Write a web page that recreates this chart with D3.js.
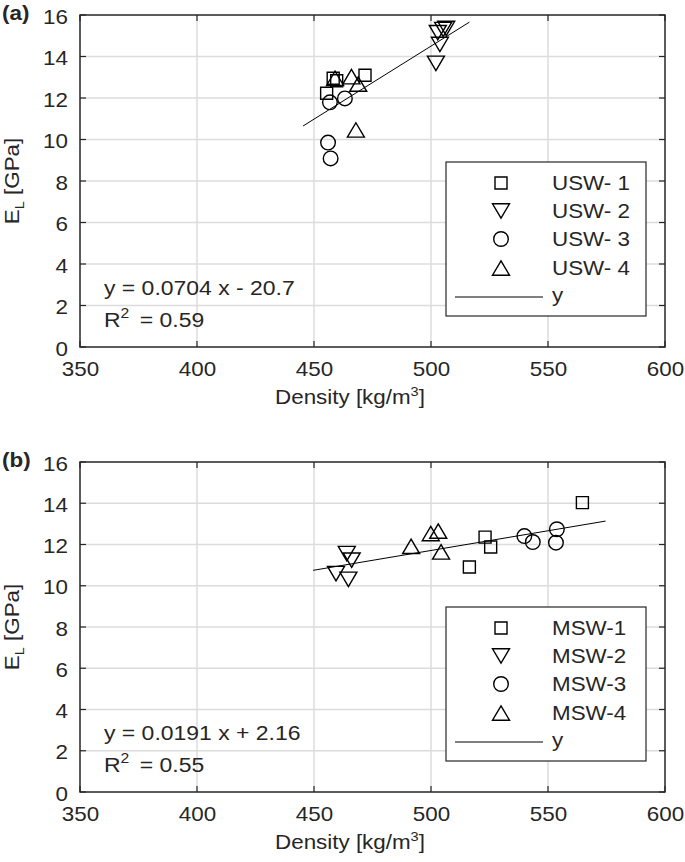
<!DOCTYPE html>
<html><head><meta charset="utf-8">
<script src="https://cdn.jsdelivr.net/npm/d3@7"></script>
<style>body{margin:0;background:#fff} text{font-family:"Liberation Sans",Arial,Helvetica,sans-serif;fill:#262626}</style>
</head><body><svg id="c" width="685" height="862"></svg>
<script>
// ---- data ----
const xTicks = [350, 400, 450, 500, 550, 600];
const yTicks = [0, 2, 4, 6, 8, 10, 12, 14, 16];

const namesA = ["USW- 1", "USW- 2", "USW- 3", "USW- 4"];
const usw1X = [458.2, 459.7, 471.8, 455.4];
const usw1Y = [12.95, 12.83, 13.10, 12.23];
const usw2X = [502.1, 503.8, 502.9, 505.2, 506.5];
const usw2Y = [13.67, 14.58, 15.15, 15.30, 15.35];
const usw3X = [456.8, 463.2, 456.0, 457.1];
const usw3Y = [11.79, 11.98, 9.85, 9.09];
const usw4X = [459.0, 466.0, 468.9, 467.9];
const usw4Y = [12.95, 13.03, 12.67, 10.46];
const fitA = {slope: 0.0704, intercept: -20.7, x0: 445.3, x1: 516.4};
const eqA = "y = 0.0704 x - 20.7";
const r2A = "0.59";

const namesB = ["MSW-1", "MSW-2", "MSW-3", "MSW-4"];
const msw1X = [564.7, 523.1, 525.5, 516.4];
const msw1Y = [14.03, 12.36, 11.88, 10.91];
const msw2X = [464.0, 466.1, 459.4, 464.7];
const msw2Y = [11.56, 11.24, 10.59, 10.31];
const msw3X = [539.9, 543.5, 553.8, 553.4];
const msw3Y = [12.41, 12.12, 12.74, 12.09];
const msw4X = [491.5, 499.9, 503.1, 504.3];
const msw4Y = [11.91, 12.53, 12.65, 11.64];
const fitB = {slope: 0.0191, intercept: 2.16, x0: 449.6, x1: 574.6};
const eqB = "y = 0.0191 x + 2.16";
const r2B = "0.55";

const shapes = ["square", "down", "circle", "up"];

// ---- drawing ----
const SX = 1.12;          // horizontal glyph stretch to match reference font
const INK = "#262626";
const svg = d3.select("#c");
svg.append("rect").attr("width", 685).attr("height", 862).attr("fill", "#fff");

function markerPath(kind) {
  if (kind === "square") return "M-6,-6H6V6H-6Z";
  if (kind === "circle") return d3.symbol(d3.symbolCircle, Math.PI * 7.3 * 7.3)();
  if (kind === "up") return "M0,-7.2L8.5,7.2L-8.5,7.2Z";
  return "M0,7.2L8.5,-7.2L-8.5,-7.2Z";
}

function sText(g, x, y, size, anchor, weight) {
  return g.append("text")
    .attr("transform", `translate(${x},${y}) scale(${SX},1)`)
    .attr("font-size", size)
    .attr("text-anchor", anchor || "start")
    .attr("font-weight", weight || "normal");
}

function panel(cfg) {
  const L = 80, R = 665, T = cfg.top, B = cfg.bottom;
  const x = d3.scaleLinear().domain([350, 600]).range([L, R]);
  const y = d3.scaleLinear().domain([0, 16]).range([B, T]);
  const g = svg.append("g");

  // grid
  g.append("g").selectAll("line").data(xTicks.slice(1, -1)).join("line")
    .attr("x1", d => x(d)).attr("x2", d => x(d)).attr("y1", T).attr("y2", B)
    .attr("stroke", "#dcdcdc").attr("stroke-width", 1.5);
  g.append("g").selectAll("line").data(yTicks.slice(1, -1)).join("line")
    .attr("y1", d => y(d)).attr("y2", d => y(d)).attr("x1", L).attr("x2", R)
    .attr("stroke", "#dcdcdc").attr("stroke-width", 1.5);

  // fit line
  const f = cfg.fit;
  g.append("line")
    .attr("x1", x(f.x0)).attr("y1", y(f.slope * f.x0 + f.intercept))
    .attr("x2", x(f.x1)).attr("y2", y(f.slope * f.x1 + f.intercept))
    .attr("stroke", "#000").attr("stroke-width", 1);

  // markers
  cfg.xs.forEach((xsArr, i) => {
    const pts = xsArr.map((v, j) => [v, cfg.ys[i][j]]);
    g.append("g").selectAll("path").data(pts).join("path")
      .attr("transform", d => `translate(${x(d[0])},${y(d[1])})`)
      .attr("d", markerPath(shapes[i]))
      .attr("fill", "none").attr("stroke", "#000").attr("stroke-width", 1.4);
  });

  // axes (labels via d3 axis, ticks drawn inward)
  const ax = g.append("g").attr("transform", `translate(0,${B})`)
    .call(d3.axisBottom(x).tickValues(xTicks).tickSize(0).tickPadding(0));
  ax.select(".domain").remove();
  ax.selectAll("text").attr("font-size", 20).attr("fill", INK)
    .attr("font-family", "Liberation Sans, Arial, sans-serif")
    .attr("y", 0).attr("dy", null)
    .attr("transform", `translate(0,29) scale(${SX},1)`);
  const ay = g.append("g").attr("transform", `translate(${L},0)`)
    .call(d3.axisLeft(y).tickValues(yTicks).tickSize(0).tickPadding(0));
  ay.select(".domain").remove();
  ay.selectAll("text").attr("font-size", 20).attr("fill", INK)
    .attr("font-family", "Liberation Sans, Arial, sans-serif")
    .attr("x", 0).attr("dy", null).attr("y", 0)
    .attr("transform", `translate(-12,8) scale(${SX},1)`);

  // inner ticks on all sides
  const tk = g.append("g").attr("stroke", INK).attr("stroke-width", 1.2);
  xTicks.forEach(d => {
    tk.append("line").attr("x1", x(d)).attr("x2", x(d)).attr("y1", B).attr("y2", B - 6);
    tk.append("line").attr("x1", x(d)).attr("x2", x(d)).attr("y1", T).attr("y2", T + 6);
  });
  yTicks.forEach(d => {
    tk.append("line").attr("y1", y(d)).attr("y2", y(d)).attr("x1", L).attr("x2", L + 6);
    tk.append("line").attr("y1", y(d)).attr("y2", y(d)).attr("x1", R).attr("x2", R - 6);
  });
  g.append("rect").attr("x", L).attr("y", T).attr("width", R - L).attr("height", B - T)
    .attr("fill", "none").attr("stroke", INK).attr("stroke-width", 1.5);

  // axis titles
  const xt = sText(g, 350, B + 57, 20, "middle");
  xt.append("tspan").text("Density [kg/m");
  xt.append("tspan").attr("font-size", 13).attr("dy", -8).text("3");
  xt.append("tspan").attr("dy", 8).text("]");

  const yt = g.append("text")
    .attr("transform", `translate(19,${(T + B) / 2}) rotate(-90) scale(${SX},1)`)
    .attr("font-size", 20).attr("text-anchor", "middle");
  yt.append("tspan").text("E");
  yt.append("tspan").attr("font-size", 13).attr("dy", 5).text("L");
  yt.append("tspan").attr("dy", -5).text(" [GPa]");

  // panel label
  sText(g, 2, T + 5, 20, "start", "bold").text(cfg.label);

  // equation annotation
  sText(g, 104, B - 52, 20.5, "start").text(cfg.eq);
  const r2 = sText(g, 104, B - 20, 20.5, "start");
  r2.append("tspan").text("R");
  r2.append("tspan").attr("font-size", 14).attr("dy", -9).text("2");
  r2.append("tspan").attr("dy", 9).attr("x", 32).text("= " + cfg.r2);

  // legend (south-east)
  const lx = 446, lw = 200, lh = 154, ly = B - 31 - lh;
  const lg = g.append("g");
  lg.append("rect").attr("x", lx).attr("y", ly).attr("width", lw).attr("height", lh)
    .attr("fill", "#fff").attr("stroke", INK).attr("stroke-width", 1.2);
  const rows = [21, 49, 77, 106];
  cfg.names.forEach((n, i) => {
    lg.append("path").attr("transform", `translate(${lx + 55},${ly + rows[i]})`)
      .attr("d", markerPath(shapes[i])).attr("fill", "none").attr("stroke", "#000").attr("stroke-width", 1.4);
    sText(lg, lx + 106, ly + rows[i] + 7, 20, "start").text(n);
  });
  lg.append("line").attr("x1", lx + 9).attr("x2", lx + 97).attr("y1", ly + 135).attr("y2", ly + 135)
    .attr("stroke", "#000").attr("stroke-width", 1);
  sText(lg, lx + 106, ly + 140, 20, "start").text("y");
}

panel({top: 15, bottom: 347, label: "(a)", names: namesA,
  xs: [usw1X, usw2X, usw3X, usw4X], ys: [usw1Y, usw2Y, usw3Y, usw4Y],
  fit: fitA, eq: eqA, r2: r2A});
panel({top: 462, bottom: 792, label: "(b)", names: namesB,
  xs: [msw1X, msw2X, msw3X, msw4X], ys: [msw1Y, msw2Y, msw3Y, msw4Y],
  fit: fitB, eq: eqB, r2: r2B});
</script></body></html>
